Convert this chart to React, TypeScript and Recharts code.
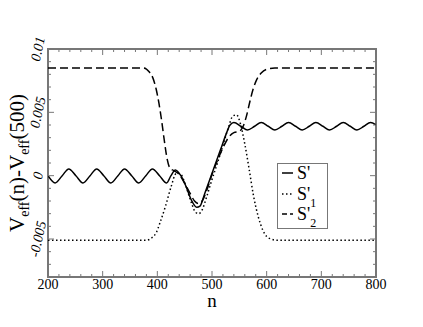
import React from "react";
import { LineChart, Line, XAxis, YAxis, ReferenceArea, Legend } from "recharts";

// S' (solid)
const SOLID_N = [200, 213, 226, 238, 251, 264, 277, 289, 302, 315, 328, 340, 353, 366, 379, 391, 404, 417, 425, 433, 443, 452, 462, 472, 478, 486, 496, 506, 516, 526, 533, 540, 553, 565, 578, 590, 603, 615, 628, 640, 653, 665, 678, 690, 703, 715, 728, 740, 753, 765, 778, 790, 800];
const SOLID_V = [0, -0.00057, 0, 0.00053, 0, -0.00057, 0, 0.00053, 0, -0.00057, 0, 0.00053, 0, -0.00057, 0, 0.00053, 0, -0.00057, 0, 0.00045, 0, -0.0008, -0.0019, -0.0025, -0.0024, -0.0015, -0.0003, 0.0009, 0.0021, 0.0033, 0.004, 0.0042, 0.0039, 0.0036, 0.0039, 0.0042, 0.0039, 0.0036, 0.0039, 0.0042, 0.0039, 0.0036, 0.0039, 0.0042, 0.0039, 0.0036, 0.0039, 0.0042, 0.0039, 0.0036, 0.0039, 0.0042, 0.004];

// S'1 (dotted)
const DOTTED_N = [200, 380, 390, 398, 405, 415, 425, 435, 443, 452, 462, 470, 476, 482, 490, 500, 510, 520, 530, 538, 545, 552, 560, 568, 576, 585, 593, 600, 608, 618, 630, 800];
const DOTTED_V = [-0.0051, -0.0051, -0.0049, -0.0045, -0.0037, -0.0024, -0.0009, 0.0002, 0.0001, -0.0008, -0.0021, -0.0029, -0.003, -0.0027, -0.0017, -0.0003, 0.001, 0.0024, 0.0038, 0.0047, 0.0048, 0.0041, 0.0025, 0.0005, -0.0016, -0.0033, -0.0043, -0.0048, -0.005, -0.0051, -0.0051, -0.0051];

// S'2 (dashed)
const DASHED_N = [200, 375, 385, 392, 398, 403, 408, 413, 418, 423, 430, 440, 450, 460, 468, 475, 482, 490, 500, 510, 520, 530, 540, 550, 557, 563, 569, 575, 582, 590, 600, 615, 800];
const DASHED_V = [0.0085, 0.0085, 0.0082, 0.0077, 0.0068, 0.0057, 0.0043, 0.0027, 0.0013, 0.0006, 0.0004, 0.0001, -0.0006, -0.0014, -0.002, -0.0022, -0.002, -0.0012, 0.0001, 0.0012, 0.0022, 0.003, 0.0034, 0.0035, 0.0039, 0.0047, 0.0058, 0.0068, 0.0076, 0.0081, 0.0084, 0.0085, 0.0085];

const X_TICKS = [200, 220, 240, 260, 280, 300, 320, 340, 360, 380, 400, 420, 440, 460, 480, 500, 520, 540, 560, 580, 600, 620, 640, 660, 680, 700, 720, 740, 760, 780, 800];
const X_LABELS = [200, 300, 400, 500, 600, 700, 800];
const Y_TICKS = [-0.008, -0.007, -0.006, -0.005, -0.004, -0.003, -0.002, -0.001, 0, 0.001, 0.002, 0.003, 0.004, 0.005, 0.006, 0.007, 0.008, 0.009, 0.01];
const Y_LABELS = [-0.005, 0, 0.005, 0.01];
const Y_LABEL_TEXT = ["-0.005", "0", "0.005", "0.01"];

const zip = (ns: number[], vs: number[]) => ns.map((n, i) => ({ n, v: vs[i] }));
const solid = zip(SOLID_N, SOLID_V);
const dotted = zip(DOTTED_N, DOTTED_V);
const dashed = zip(DASHED_N, DASHED_V);

const AXIS = "#777";
const SERIF = { fontFamily: "serif" };
const PLOT_TOP = 49;
const PLOT_RIGHT = 376;

const XTick = (props: any) => {
  const { x, y, payload } = props;
  const major = X_LABELS.includes(payload.value);
  const len = major ? 6 : 3;
  return (
    <g>
      <line x1={x} x2={x} y1={y} y2={y - len} stroke={AXIS} strokeWidth={1} />
      <line x1={x} x2={x} y1={PLOT_TOP} y2={PLOT_TOP + len} stroke={AXIS} strokeWidth={1} />
      {major && (
        <text x={x} y={y + 12} textAnchor="middle" fontSize={14} style={SERIF} fill="#000">
          {payload.value}
        </text>
      )}
    </g>
  );
};

const YTick = (props: any) => {
  const { x, y, payload } = props;
  const idx = Y_LABELS.findIndex((v) => Math.abs(v - payload.value) < 1e-9);
  const len = idx >= 0 ? 6 : 3;
  const lx = x - 10;
  return (
    <g>
      <line x1={x} x2={x + len} y1={y} y2={y} stroke={AXIS} strokeWidth={1} />
      <line x1={PLOT_RIGHT - len} x2={PLOT_RIGHT} y1={y} y2={y} stroke={AXIS} strokeWidth={1} />
      {idx >= 0 && (
        <text
          x={lx}
          y={y}
          textAnchor="middle"
          dominantBaseline="central"
          fontSize={14}
          style={{ ...SERIF, fontStyle: "italic" }}
          fill="#000"
          transform={`rotate(-78 ${lx} ${y})`}
        >
          {Y_LABEL_TEXT[idx]}
        </text>
      )}
    </g>
  );
};

const YLabel = (props: any) => {
  const vb = props.viewBox || {};
  const cx = 24;
  const cy = (vb.y ?? 49) + (vb.height ?? 228) / 2;
  return (
    <text
      x={cx}
      y={cy}
      textAnchor="middle"
      fontSize={21}
      style={SERIF}
      fill="#000"
      transform={`rotate(-90 ${cx} ${cy})`}
    >
      V<tspan fontSize={14} dy={5}>eff</tspan>
      <tspan dy={-5}>(n)-V</tspan>
      <tspan fontSize={14} dy={5}>eff</tspan>
      <tspan dy={-5}>(500)</tspan>
    </text>
  );
};

const XLabel = (props: any) => {
  const vb = props.viewBox || {};
  const cx = (vb.x ?? 48) + (vb.width ?? 328) / 2;
  return (
    <text x={cx} y={(vb.y ?? 277) + 30} textAnchor="middle" fontSize={19} style={SERIF} fill="#000">
      n
    </text>
  );
};

const LegendBox = () => (
  <svg width={51} height={66} style={{ display: "block" }}>
    <rect x={0.5} y={0.5} width={50} height={65} fill="#fff" stroke={AXIS} strokeWidth={1} />
    <line x1={5} x2={16} y1={10} y2={10} stroke="#000" strokeWidth={1.5} />
    <line x1={5} x2={16} y1={31} y2={31} stroke="#000" strokeWidth={1.5} strokeDasharray="1.5 2.5" />
    <line x1={5} x2={16} y1={51} y2={51} stroke="#000" strokeWidth={1.5} strokeDasharray="5 3" />
    <text x={20} y={16} fontSize={18} style={SERIF} fill="#000">S'</text>
    <text x={20} y={37} fontSize={18} style={SERIF} fill="#000">
      S'<tspan fontSize={12} dy={7}>1</tspan>
    </text>
    <text x={20} y={57} fontSize={18} style={SERIF} fill="#000">
      S'<tspan fontSize={12} dy={7}>2</tspan>
    </text>
  </svg>
);

export default function App() {
  return (
    <div style={{ position: "absolute", left: 0, top: 0, width: 423, height: 327, background: "#fff" }}>
      <LineChart width={423} height={327} margin={{ top: PLOT_TOP, right: 423 - PLOT_RIGHT, bottom: 0, left: 0 }}>
        <XAxis
          type="number"
          dataKey="n"
          domain={[200, 800]}
          ticks={X_TICKS}
          interval={0}
          allowDataOverflow
          height={50}
          axisLine={false}
          tickLine={false}
          tickSize={0}
          tickMargin={0}
          tick={<XTick />}
          label={XLabel}
        />
        <YAxis
          type="number"
          dataKey="v"
          domain={[-0.008, 0.01]}
          ticks={Y_TICKS}
          interval={0}
          allowDataOverflow
          width={48}
          axisLine={false}
          tickLine={false}
          tickSize={0}
          tickMargin={0}
          tick={<YTick />}
          label={YLabel}
        />
        <ReferenceArea x1={200} x2={800} y1={-0.008} y2={0.01} fill="none" stroke={AXIS} strokeWidth={2} ifOverflow="visible" />
        <Line data={solid} dataKey="v" type="monotone" stroke="#000" strokeWidth={1.5} dot={false} isAnimationActive={false} name="S'" />
        <Line data={dotted} dataKey="v" type="monotone" stroke="#000" strokeWidth={1.5} strokeDasharray="1.5 2.5" dot={false} isAnimationActive={false} name="S'1" />
        <Line data={dashed} dataKey="v" type="monotone" stroke="#000" strokeWidth={1.5} strokeDasharray="8 4" dot={false} isAnimationActive={false} name="S'2" />
        <Legend
          layout="vertical"
          align="center"
          verticalAlign="middle"
          content={LegendBox}
          wrapperStyle={{ position: "absolute", left: 277, top: 163, width: 51, height: 66 }}
        />
      </LineChart>
    </div>
  );
}
